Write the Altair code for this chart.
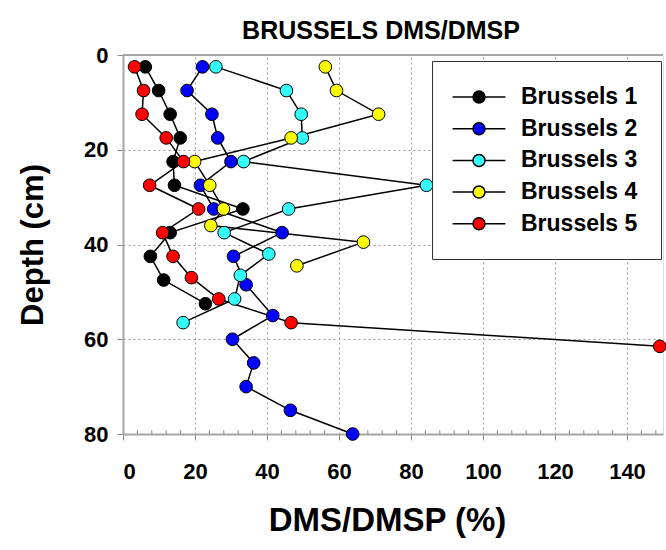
import altair as alt
import pandas as pd

series_names = ["Brussels 1", "Brussels 2", "Brussels 3", "Brussels 4", "Brussels 5"]
series_colors = ["#000000", "#0000ff", "#33ffff", "#ffff00", "#ff0000"]

b1_depth = [2.5, 7.5, 12.5, 17.5, 22.5, 27.5, 32.5, 37.5, 42.5, 47.5, 52.5]
b1_value = [6.2, 9.9, 13.1, 15.9, 13.9, 14.3, 33.3, 13.1, 7.6, 11.3, 22.9]

b2_depth = [2.5, 7.5, 12.5, 17.5, 22.5, 27.5, 32.5, 37.5, 42.5, 48.5, 55, 60, 65, 70, 75, 80]
b2_value = [22.1, 17.8, 24.7, 26.3, 30.0, 21.5, 25.2, 44.2, 30.7, 34.2, 41.6, 30.4, 36.3, 34.2, 46.5, 63.8]

b3_depth = [2.5, 7.5, 12.5, 17.5, 22.5, 27.5, 32.5, 37.5, 42.0, 46.5, 51.5, 56.5]
b3_value = [25.8, 45.4, 49.5, 49.8, 33.5, 84.3, 46.0, 28.1, 40.5, 32.6, 31.0, 16.7]

b4_depth = [2.5, 7.5, 12.5, 17.5, 22.5, 27.5, 32.5, 36.0, 39.5, 44.5]
b4_value = [56.2, 59.3, 71.0, 46.7, 19.9, 24.1, 27.9, 24.4, 66.8, 48.3]

b5_depth = [2.5, 7.5, 12.5, 17.5, 22.5, 27.5, 32.5, 37.5, 42.5, 47.0, 51.5, 56.5, 61.5]
b5_value = [3.2, 5.7, 5.3, 12.0, 16.8, 7.4, 21.0, 11.0, 13.9, 19.0, 26.6, 46.7, 149.1]

x_ticks = [0, 20, 40, 60, 80, 100, 120, 140]
x_minor_ticks = [4, 8, 12, 16, 24, 28, 32, 36, 44, 48, 52, 56, 64, 68, 72, 76,
                 84, 88, 92, 96, 104, 108, 112, 116, 124, 128, 132, 136, 144, 148]
y_ticks = [0, 20, 40, 60, 80]

rows = []
for name, dep, val in zip(series_names,
                          [b1_depth, b2_depth, b3_depth, b4_depth, b5_depth],
                          [b1_value, b2_value, b3_value, b4_value, b5_value]):
    for i, (d, v) in enumerate(zip(dep, val)):
        rows.append({"series": name, "depth": d, "value": v, "idx": i})
df = pd.DataFrame(rows)
minor_df = pd.DataFrame({"tick": x_minor_ticks})

FONT = "Liberation Sans"
AXIS_GRAY = "#a6a6a6"

x_scale = alt.Scale(domain=[0, 150], nice=False, zero=False)
y_scale = alt.Scale(domain=[0, 80], nice=False, reverse=True)

x_enc = alt.X("value:Q", scale=x_scale, axis=alt.Axis(
    values=x_ticks, title="DMS/DMSP (%)", grid=True, gridDash=[2, 3], gridColor="#9a9a9a",
    domainColor=AXIS_GRAY, domainWidth=2, tickColor="#888888", tickSize=6, tickWidth=1,
    labelFont=FONT, labelFontSize=22, labelFontWeight="bold", labelColor="black",
    labelBaseline="alphabetic", labelPadding=38,
    titleFont=FONT, titleFontSize=33, titleFontWeight="bold", titleColor="black",
    titleX=264, titleY=96, titleAlign="center", titleBaseline="alphabetic"))
y_enc = alt.Y("depth:Q", scale=y_scale, axis=alt.Axis(
    values=y_ticks, title="Depth (cm)", grid=True, gridDash=[2, 3], gridColor="#9a9a9a",
    domainColor=AXIS_GRAY, domainWidth=2, tickColor="#888888", tickSize=6, tickWidth=1,
    labelFont=FONT, labelFontSize=22, labelFontWeight="bold", labelColor="black",
    labelPadding=9, labelBaseline="middle",
    titleFont=FONT, titleFontSize=31, titleFontWeight="bold", titleColor="black",
    titleX=-81, titleY=189.5, titleAlign="center", titleBaseline="alphabetic", titleAngle=270))

LEGEND_PATH = "M-2.2,0L-0.5,0M0.5,0L2.2,0M-0.5,0A0.5,0.5,0,1,1,0.5,0A0.5,0.5,0,1,1,-0.5,0Z"

lines = alt.Chart(df).mark_line(color="black", strokeWidth=1.5).encode(
    x=x_enc, y=y_enc, detail="series:N", order="idx:Q")

points = alt.Chart(df).mark_circle(size=160, stroke="black", strokeWidth=1, opacity=1).encode(
    x=alt.X("value:Q", scale=x_scale),
    y=alt.Y("depth:Q", scale=y_scale),
    fill=alt.Fill("series:N", scale=alt.Scale(domain=series_names, range=series_colors),
                  legend=alt.Legend(
                      title=None, orient="none", legendX=309, legendY=6,
                      symbolType=LEGEND_PATH, symbolSize=576, symbolStrokeColor="black",
                      symbolStrokeWidth=1.5, symbolOffset=11, labelOffset=29,
                      labelFont=FONT, labelFontSize=23, labelFontWeight="bold", labelColor="black",
                      padding=23, rowPadding=6.7, strokeColor="#333333", fillColor="white")))

top_border = alt.Chart(df).mark_rule(color=AXIS_GRAY, strokeWidth=2).encode(
    x=alt.datum(0, scale=x_scale), x2=alt.datum(150), y=alt.datum(0, scale=y_scale))

minor = alt.Chart(minor_df).mark_rule(color="#888888", strokeWidth=1).encode(
    x=alt.X("tick:Q", scale=x_scale), y=alt.datum(80, scale=y_scale), y2=alt.datum(79.2))

chart = alt.layer(minor, top_border, lines, points).properties(
    width=540, height=379,
    title=alt.Title("BRUSSELS DMS/DMSP", font=FONT, fontSize=25, fontWeight="bold",
                    color="black", anchor="middle", dx=-12, dy=40, offset=20, baseline="alphabetic"),
    autosize=alt.AutoSizeParams(type="none"),
    padding={"left": 123, "top": 55, "right": 3, "bottom": 116},
).configure_view(stroke=None).configure(background="white")

chart.save("out.html", embed_options={"renderer": "svg", "actions": False})
